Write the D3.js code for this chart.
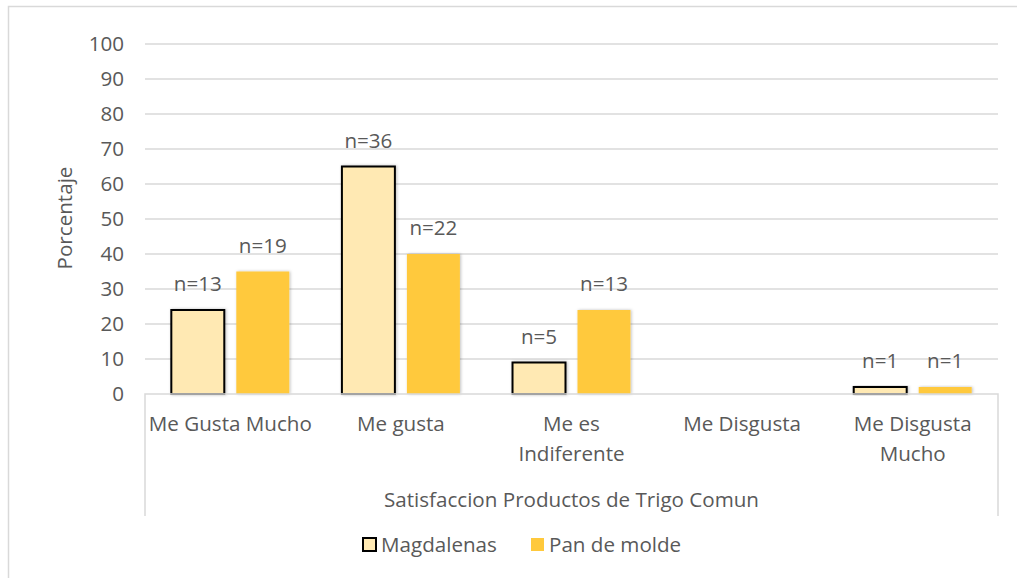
<!DOCTYPE html>
<html><head><meta charset="utf-8">
<script src="https://cdn.jsdelivr.net/npm/d3@7"></script>
<style>body{margin:0;background:#fff}svg text{font-family:"Open Sans",sans-serif;fill:#595959}</style>
</head><body><svg id="c" width="1017" height="578"></svg>
<script>
const categories = ["Me Gusta Mucho","Me gusta","Me es Indiferente","Me Disgusta","Me Disgusta Mucho"];
const categoryLines = [["Me Gusta Mucho"],["Me gusta"],["Me es","Indiferente"],["Me Disgusta"],["Me Disgusta","Mucho"]];
const seriesNames = ["Magdalenas","Pan de molde"];
const magdalenas = [24,65,9,0,2];
const panDeMolde = [35,40,24,0,2];
const magdalenasN = ["n=13","n=36","n=5","","n=1"];
const panDeMoldeN = ["n=19","n=22","n=13","","n=1"];
const yTicks = [0,10,20,30,40,50,60,70,80,90,100];

const FS = 20.6;
const svg = d3.select("#c");
const L=145,R=998,T=44,B=394;
svg.append("rect").attr("x",8.5).attr("y",6.5).attr("width",1030).attr("height",600).attr("fill","none").attr("stroke","#d9d9d9").attr("stroke-width",1.5);

const y = d3.scaleLinear().domain([0,100]).range([B,T]);
const x0 = d3.scaleBand().domain(categories).range([L,R]);
const x1 = d3.scaleBand().domain(seriesNames).range([0,x0.bandwidth()]).paddingInner(0.185).paddingOuter(0.405);

svg.append("g").selectAll("line").data(yTicks.filter(d=>d>0)).join("line")
 .attr("x1",L).attr("x2",R).attr("y1",d=>y(d)).attr("y2",d=>y(d)).attr("stroke","#d9d9d9").attr("stroke-width",1.5);
svg.append("g").selectAll("text").data(yTicks).join("text")
 .attr("x",124).attr("y",d=>y(d)).attr("dy","0.35em").attr("text-anchor","end").attr("font-size",FS).text(d=>d);
svg.append("text").attr("transform",`translate(72,${(T+B)/2-1}) rotate(-90)`).attr("text-anchor","middle").attr("font-size",FS).text("Porcentaje");

const defs = svg.append("defs");
const f = defs.append("filter").attr("id","sh").attr("x","-20%").attr("y","-20%").attr("width","140%").attr("height","140%");
f.append("feDropShadow").attr("dx",1).attr("dy",0).attr("stdDeviation",1.5).attr("flood-color","#000").attr("flood-opacity",0.25);

const series = [
 {name:"Magdalenas",vals:magdalenas,n:magdalenasN,fill:"#ffe9b3",stroke:"#000"},
 {name:"Pan de molde",vals:panDeMolde,n:panDeMoldeN,fill:"#ffc93c",stroke:"none"}];

series.forEach(s=>{
 const g = svg.append("g");
 g.selectAll("rect").data(categories.filter((c,i)=>s.vals[i]>0)).join("rect")
  .attr("x",c=>x0(c)+x1(s.name)).attr("width",x1.bandwidth())
  .attr("y",c=>y(s.vals[categories.indexOf(c)])).attr("height",c=>B-y(s.vals[categories.indexOf(c)]))
  .attr("fill",s.fill).attr("stroke",s.stroke).attr("stroke-width",2).attr("filter","url(#sh)");
 g.selectAll("text").data(categories).join("text")
  .attr("x",c=>x0(c)+x1(s.name)+x1.bandwidth()/2).attr("y",c=>y(s.vals[categories.indexOf(c)])-19)
  .attr("text-anchor","middle").attr("font-size",FS).text(c=>s.n[categories.indexOf(c)]);
});

// category axis box
svg.append("path").attr("d",`M${L},516V${B}H${R}V516`).attr("fill","none").attr("stroke","#d9d9d9").attr("stroke-width",1.5);
categories.forEach((c,i)=>{
 const t = svg.append("text").attr("x",x0(c)+x0.bandwidth()/2).attr("y",431).attr("text-anchor","middle").attr("font-size",FS);
 categoryLines[i].forEach((ln,j)=>t.append("tspan").attr("x",x0(c)+x0.bandwidth()/2).attr("dy",j?30:0).text(ln));
});
svg.append("text").attr("x",(L+R)/2).attr("y",507).attr("text-anchor","middle").attr("font-size",FS).text("Satisfaccion Productos de Trigo Comun");

// legend
const leg = [{name:"Magdalenas",x:362,fill:"#ffe9b3",stroke:"#000"},{name:"Pan de molde",x:530,fill:"#ffc93c",stroke:"none"}];
leg.forEach(l=>{
 svg.append("rect").attr("x",l.x+1).attr("y",538).attr("width",13).attr("height",13).attr("fill",l.fill).attr("stroke",l.stroke).attr("stroke-width",2);
 svg.append("text").attr("x",l.x+19).attr("y",545).attr("dy","0.35em").attr("font-size",FS).text(l.name);
});
</script></body></html>
